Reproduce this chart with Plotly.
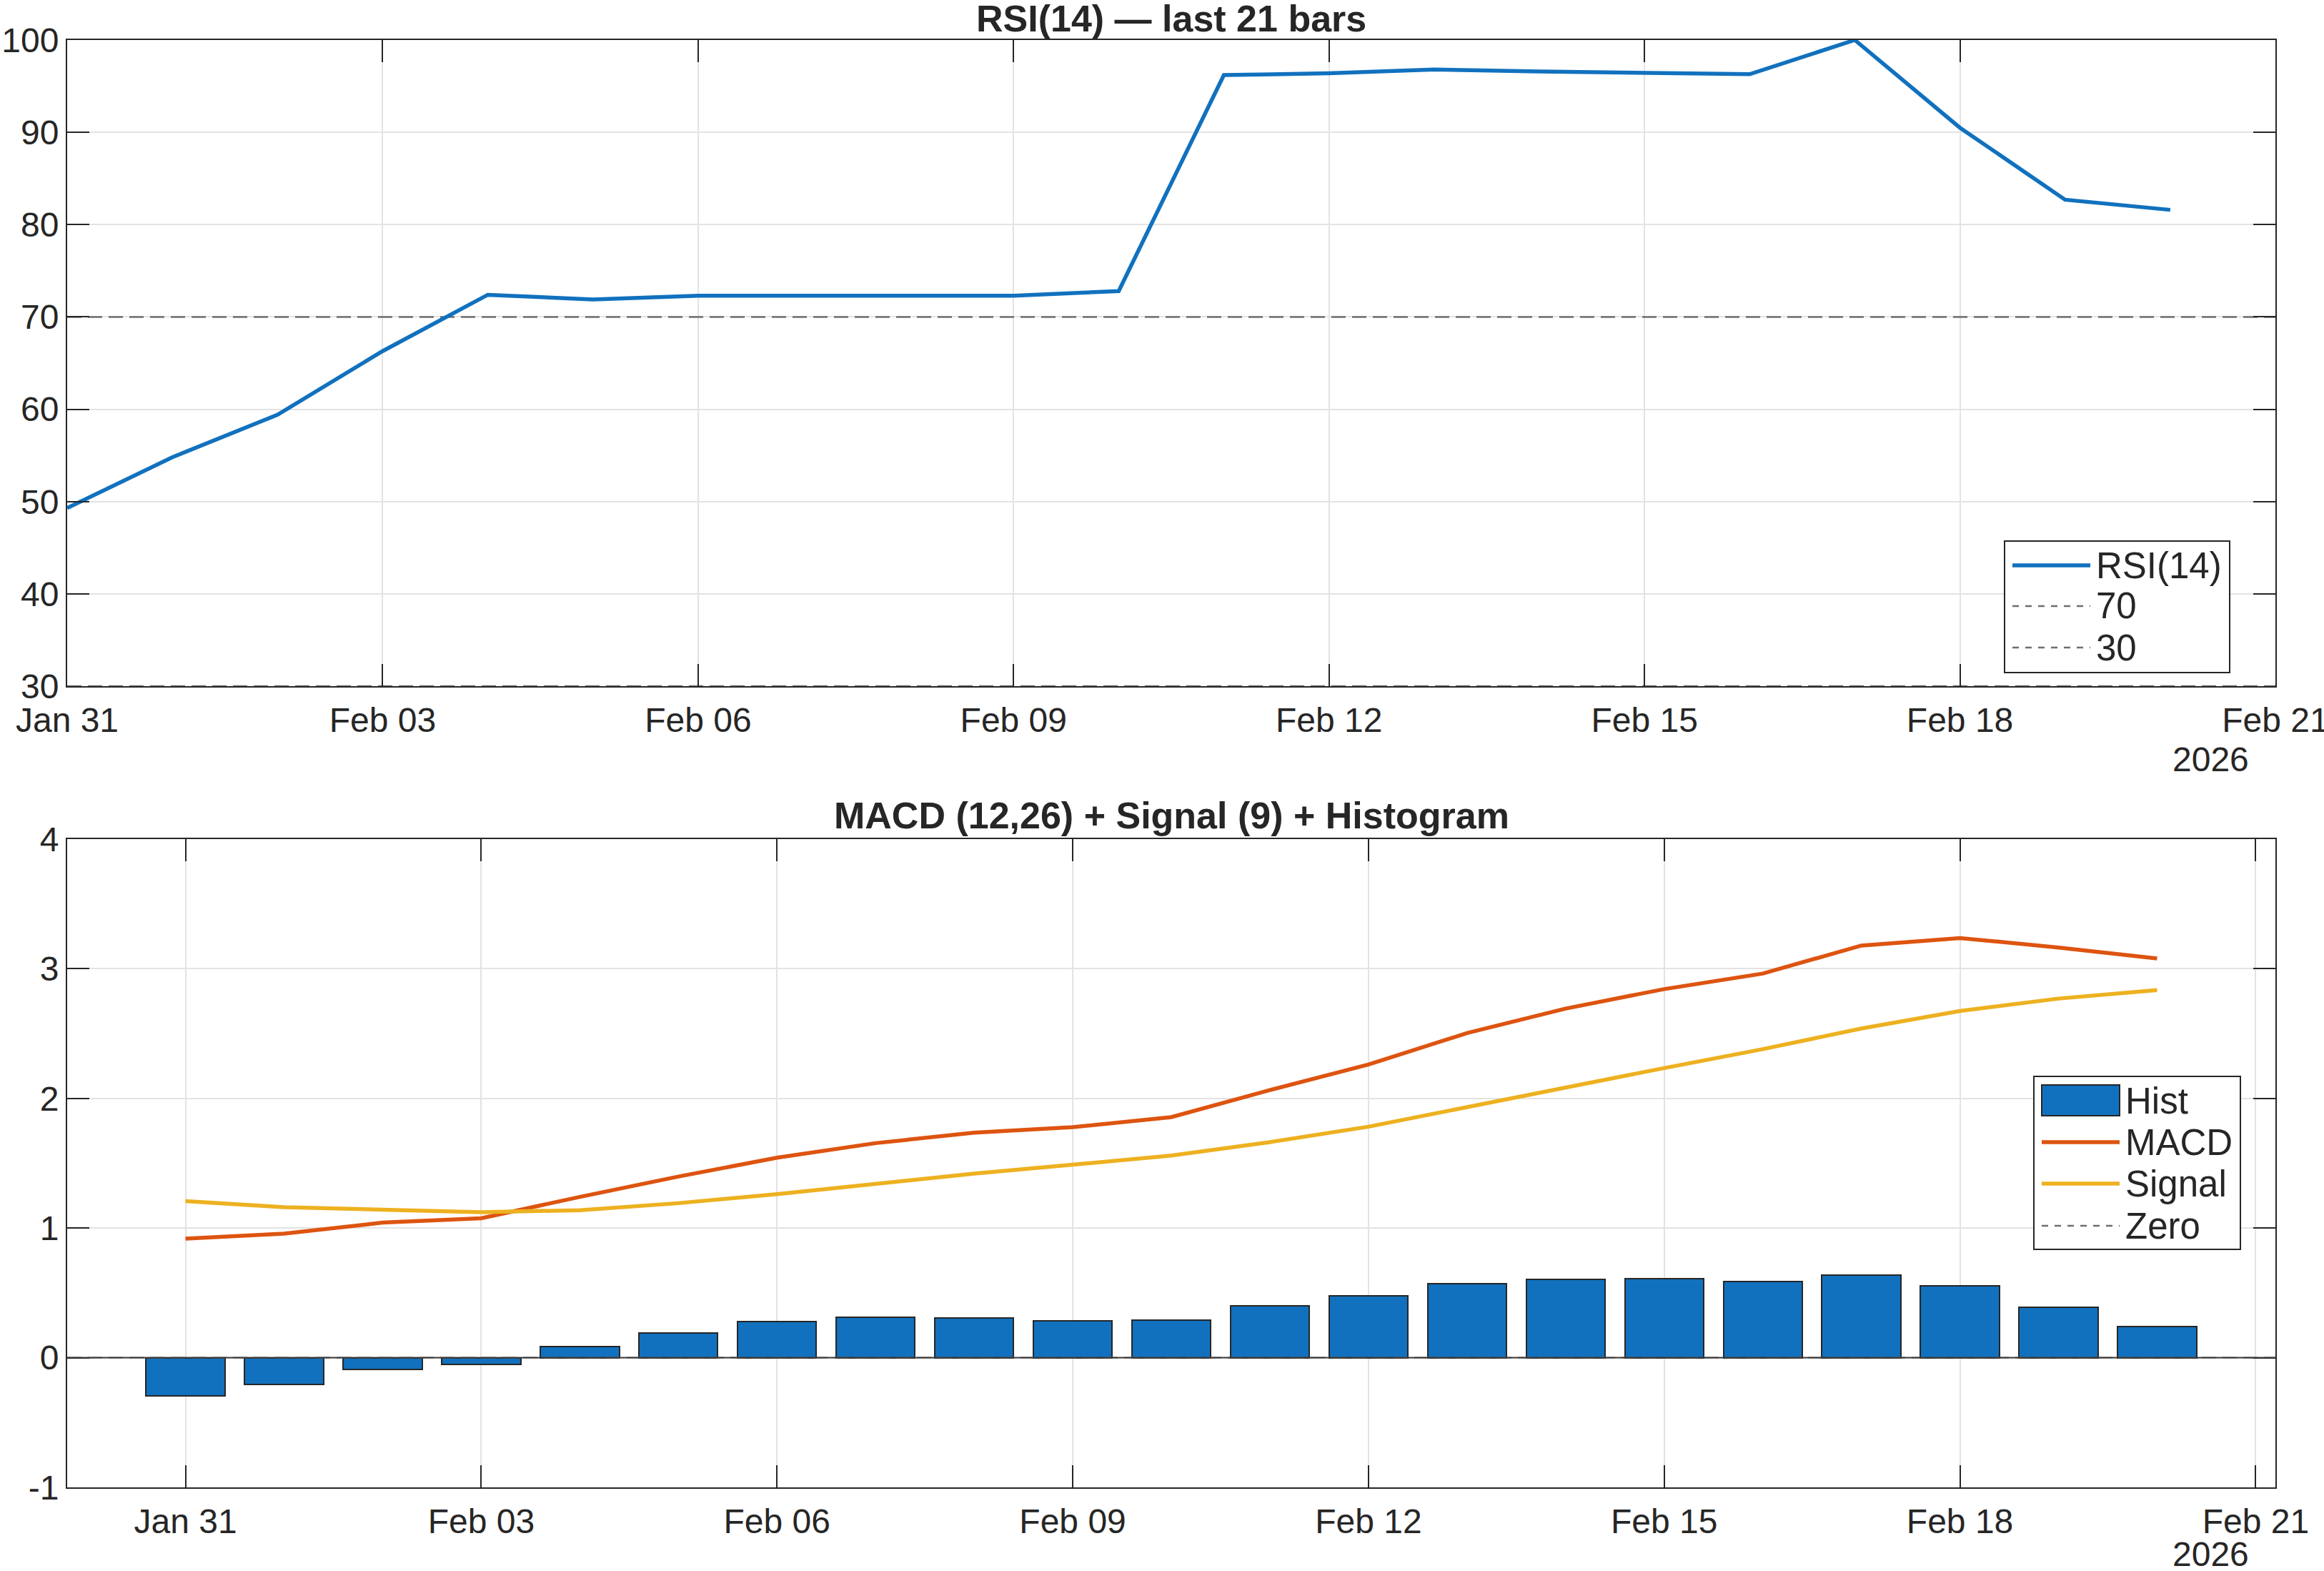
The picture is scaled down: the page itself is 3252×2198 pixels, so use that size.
import plotly.graph_objects as go

# ---------------- data ----------------
dates = ["2026-01-31", "2026-02-01", "2026-02-02", "2026-02-03", "2026-02-04",
         "2026-02-05", "2026-02-06", "2026-02-07", "2026-02-08", "2026-02-09",
         "2026-02-10", "2026-02-11", "2026-02-12", "2026-02-13", "2026-02-14",
         "2026-02-15", "2026-02-16", "2026-02-17", "2026-02-18", "2026-02-19",
         "2026-02-20"]

rsi = [49.3, 54.8, 59.4, 66.3, 72.4, 71.9, 72.3, 72.3, 72.3, 72.3, 72.8,
       96.2, 96.4, 96.8, 96.6, 96.5, 96.3, 100.0, 90.5, 82.7, 81.6]

macd = [0.918, 0.957, 1.042, 1.076, 1.240, 1.397, 1.543, 1.655, 1.736, 1.778,
        1.856, 2.064, 2.261, 2.504, 2.693, 2.843, 2.963, 3.179, 3.237, 3.164, 3.079]

signal = [1.208, 1.161, 1.142, 1.123, 1.138, 1.192, 1.262, 1.339, 1.420, 1.489,
          1.559, 1.663, 1.782, 1.933, 2.087, 2.234, 2.380, 2.539, 2.674, 2.770, 2.836]

hist = [-0.293, -0.204, -0.093, -0.054, 0.085, 0.189, 0.278, 0.313, 0.309, 0.285,
        0.289, 0.401, 0.475, 0.571, 0.606, 0.610, 0.586, 0.640, 0.552, 0.390, 0.239]

rsi_levels = [70, 30]
zero_level = 0

tick_dates = ["2026-01-31", "2026-02-03", "2026-02-06", "2026-02-09",
              "2026-02-12", "2026-02-15", "2026-02-18", "2026-02-21"]
tick_labels = ["Jan 31", "Feb 03", "Feb 06", "Feb 09", "Feb 12", "Feb 15",
               "Feb 18", "Feb 21"]
top_xrange = ["2026-01-31", "2026-02-21"]
bot_xrange = ["2026-01-29 19:12", "2026-02-21 04:48"]
year_label = "2026"

rsi_ticks = [30, 40, 50, 60, 70, 80, 90, 100]
macd_ticks = [-1, 0, 1, 2, 3, 4]

# ---------------- style ----------------
W, H = 3252, 2198
FONT = "Liberation Sans, Arial, sans-serif"
TXT = "#262626"
AX = "#262626"
GRID = "#E3E3E3"
BLUE = "#1171BE"
ORANGE = "#DD5410"
YELLOW = "#EDB120"
DASHGREY = "#6E6E6E"
DAY = 86400000
LW = 5.5


def px(x):
    return x / W


def py(y):
    return 1 - y / H


L, R = 94, 3184
TOP_T, TOP_B = 56, 960
BOT_T, BOT_B = 1174, 2081

fig = go.Figure()

# RSI panel
for lv in rsi_levels:
    fig.add_trace(go.Scatter(x=top_xrange, y=[lv, lv], mode="lines", name=str(lv),
                             line=dict(color=DASHGREY, width=2.5, dash="20px,9px"),
                             xaxis="x", yaxis="y", showlegend=False))
fig.add_trace(go.Scatter(x=dates, y=rsi, mode="lines", name="RSI(14)",
                         line=dict(color=BLUE, width=LW), xaxis="x", yaxis="y",
                         showlegend=False))

# MACD panel
fig.add_trace(go.Scatter(x=bot_xrange, y=[zero_level, zero_level], mode="lines", name="Zero",
                         line=dict(color=DASHGREY, width=2, dash="20px,9px"),
                         xaxis="x2", yaxis="y2", showlegend=False))
fig.add_trace(go.Bar(x=dates, y=hist, name="Hist", width=0.8 * DAY,
                     marker=dict(color=BLUE, line=dict(color=AX, width=2)),
                     xaxis="x2", yaxis="y2", showlegend=False))
fig.add_trace(go.Scatter(x=dates, y=macd, mode="lines", name="MACD",
                         line=dict(color=ORANGE, width=LW), xaxis="x2", yaxis="y2",
                         showlegend=False))
fig.add_trace(go.Scatter(x=dates, y=signal, mode="lines", name="Signal",
                         line=dict(color=YELLOW, width=LW), xaxis="x2", yaxis="y2",
                         showlegend=False))

axis_common = dict(
    showline=True, linecolor=AX, linewidth=2, mirror="allticks",
    ticks="inside", ticklen=31, tickwidth=2, tickcolor=AX,
    showgrid=True, gridcolor=GRID, gridwidth=2, zeroline=False,
    tickfont=dict(family=FONT, size=48, color=TXT), automargin=False,
    ticklabeloverflow="allow",
)

xdom = [px(L), px(R)]
fig.update_layout(
    width=W, height=H, margin=dict(l=0, r=0, t=0, b=0),
    paper_bgcolor="white", plot_bgcolor="white", showlegend=False,
    bargap=0,
    xaxis=dict(domain=xdom, anchor="y", type="date", range=top_xrange,
               tickmode="array", tickvals=tick_dates, ticktext=tick_labels,
               ticklabelstandoff=4, **axis_common),
    yaxis=dict(domain=[py(TOP_B), py(TOP_T)], anchor="x", range=[30, 100],
               tickmode="array", tickvals=rsi_ticks,
               ticktext=[str(v) for v in rsi_ticks], **axis_common),
    xaxis2=dict(domain=xdom, anchor="y2", type="date", range=bot_xrange,
                tickmode="array", tickvals=tick_dates, ticktext=tick_labels,
                ticklabelstandoff=4, **axis_common),
    yaxis2=dict(domain=[py(BOT_B), py(BOT_T)], anchor="x2", range=[-1, 4],
                tickmode="array", tickvals=macd_ticks,
                ticktext=[str(v) for v in macd_ticks], **axis_common),
)

shapes = []
annotations = []

# bar baseline at zero
shapes.append(dict(type="line", xref="x2 domain", x0=0, x1=1, yref="y2", y0=0, y1=0,
                   line=dict(color="#3A3A3A", width=2), layer="above"))

TITLE_FONT = dict(family=FONT, size=52, color=TXT, weight="bold")
# titles
annotations.append(dict(text="RSI(14) — last 21 bars", x=px((L + R) / 2), y=py(26),
                        xref="paper", yref="paper", xanchor="center", yanchor="middle",
                        showarrow=False, font=TITLE_FONT))
annotations.append(dict(text="MACD (12,26) + Signal (9) + Histogram", x=px((L + R) / 2),
                        y=py(1141), xref="paper", yref="paper", xanchor="center",
                        yanchor="middle", showarrow=False, font=TITLE_FONT))

# year labels
for ycen in (1062, 2174):
    annotations.append(dict(text=year_label, x=px(3093), y=py(ycen), xref="paper",
                            yref="paper", xanchor="center", yanchor="middle",
                            showarrow=False, font=dict(family=FONT, size=48, color=TXT)))

LEG_FONT = dict(family=FONT, size=51, color=TXT)

# top legend
shapes.append(dict(type="rect", xref="paper", yref="paper", x0=px(2805), x1=px(3120),
                   y0=py(941), y1=py(757), line=dict(color=AX, width=2),
                   fillcolor="white", layer="above"))
top_items = [("RSI(14)", BLUE, LW, "solid", 791),
             ("70", DASHGREY, 2.5, "dash", 848),
             ("30", DASHGREY, 2.5, "dash", 906)]
for label, col, wdt, dsh, yc in top_items:
    shapes.append(dict(type="line", xref="paper", yref="paper", x0=px(2816), x1=px(2925),
                       y0=py(yc), y1=py(yc), line=dict(color=col, width=wdt, dash=dsh),
                       layer="above"))
    annotations.append(dict(text=label, x=px(2931), y=py(yc), xref="paper", yref="paper",
                            xanchor="left", yanchor="middle", showarrow=False,
                            font=LEG_FONT))

# bottom legend
shapes.append(dict(type="rect", xref="paper", yref="paper", x0=px(2846), x1=px(3135),
                   y0=py(1748), y1=py(1506), line=dict(color=AX, width=2),
                   fillcolor="white", layer="above"))
shapes.append(dict(type="rect", xref="paper", yref="paper", x0=px(2857), x1=px(2966),
                   y0=py(1561), y1=py(1518), line=dict(color=AX, width=2),
                   fillcolor=BLUE, layer="above"))
annotations.append(dict(text="Hist", x=px(2972), y=py(1540), xref="paper", yref="paper",
                        xanchor="left", yanchor="middle", showarrow=False, font=LEG_FONT))
bot_items = [("MACD", ORANGE, LW, "solid", 1598),
             ("Signal", YELLOW, LW, "solid", 1656),
             ("Zero", DASHGREY, 2.5, "dash", 1715)]
for label, col, wdt, dsh, yc in bot_items:
    shapes.append(dict(type="line", xref="paper", yref="paper", x0=px(2857), x1=px(2966),
                       y0=py(yc), y1=py(yc), line=dict(color=col, width=wdt, dash=dsh),
                       layer="above"))
    annotations.append(dict(text=label, x=px(2972), y=py(yc), xref="paper", yref="paper",
                            xanchor="left", yanchor="middle", showarrow=False,
                            font=LEG_FONT))

fig.update_layout(shapes=shapes, annotations=annotations)

fig.write_html("out.html")
